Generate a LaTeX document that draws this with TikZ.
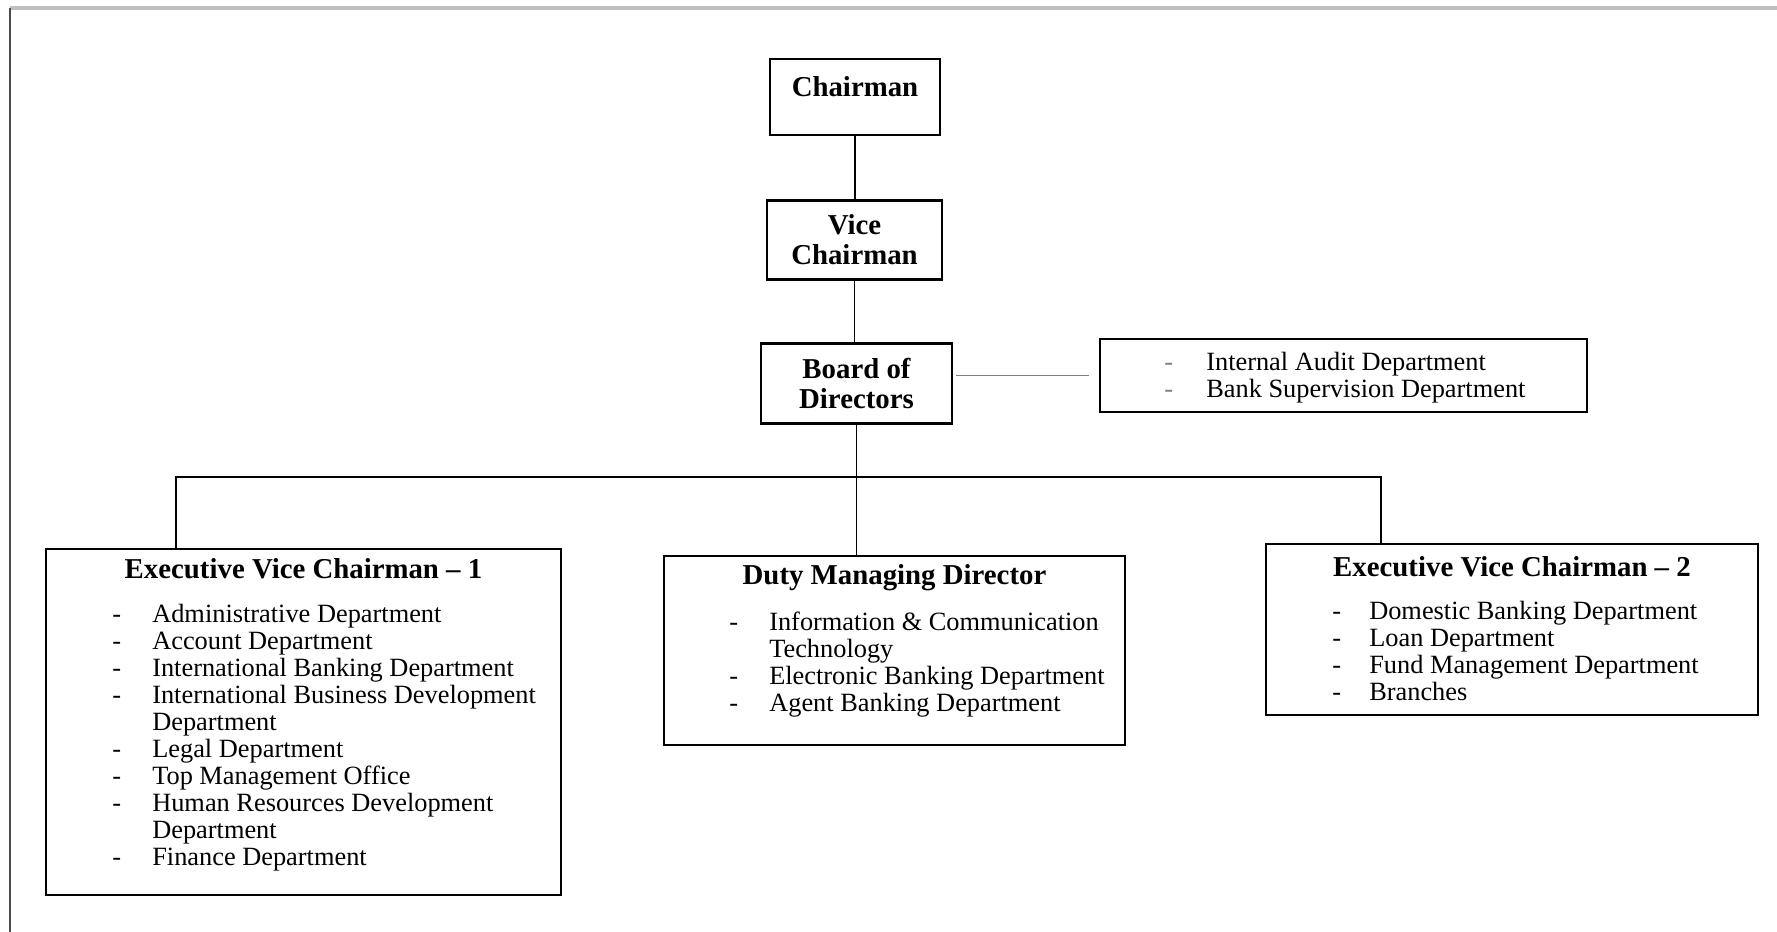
\documentclass[tikz,border=0pt]{standalone}
\usepackage{fontspec}
\setmainfont{Liberation Serif}

\begin{document}
\begin{tikzpicture}[
    box/.style={draw,line width=0.8pt,inner sep=0pt},
    link/.style={line width=0.5pt},
    head/.style={font=\fontsize{8.2}{8.6}\selectfont\bfseries,align=center,inner sep=0pt},
    items/.style={anchor=north west,inner sep=0pt,font=\fontsize{7.5}{7.7}\selectfont}
]
\useasboundingbox (0,0) rectangle (17.77,9.32);
\draw[gray!50,line width=1.2pt](0.1,9.24)--(17.77,9.24);
\draw[black!70,line width=0.4pt](0.1,9.24)--(0.1,0);

% top of the chart
\node[box,head,minimum width=1.70cm,minimum height=0.76cm,text depth=0.2cm](chair) at (8.55,8.35){Chairman};
\node[box,head,minimum width=1.75cm,minimum height=0.79cm](vice) at (8.545,6.92){Vice\\Chairman};
\node[box,head,minimum width=1.91cm,minimum height=0.80cm](board) at (8.565,5.485){Board of\\Directors};

\node[box,minimum width=4.87cm,minimum height=0.73cm](audit) at (13.435,5.565){};
\node[items](auditlist) at ([xshift=0.65cm,yshift=-0.13cm]audit.north west){%
\begin{tabular}{@{}p{0.42cm}@{}l@{}}
\textcolor{gray}{-} & Internal Audit Department\\
\textcolor{gray}{-} & Bank Supervision Department
\end{tabular}};

% three branches
\node[box,minimum width=5.15cm,minimum height=3.46cm](evcone) at (3.035,2.10){};
\node[head](evconehead) at ([yshift=-0.21cm]evcone.north){Executive Vice Chairman -- 1};
\node[items](evconelist) at ([xshift=0.67cm,yshift=-0.55cm]evcone.north west){%
\begin{tabular}{@{}p{0.40cm}@{}l@{}}
- & Administrative Department\\
- & Account Department\\
- & International Banking Department\\
- & International Business Development\\
  & Department\\
- & Legal Department\\
- & Top Management Office\\
- & Human Resources Development\\
  & Department\\
- & Finance Department
\end{tabular}};

\node[box,minimum width=4.61cm,minimum height=1.89cm](dmd) at (8.945,2.815){};
\node[head](dmdhead) at ([yshift=-0.23cm]dmd.north){Duty Managing Director};
\node[items](dmdlist) at ([xshift=0.66cm,yshift=-0.56cm]dmd.north west){%
\begin{tabular}{@{}p{0.40cm}@{}l@{}}
- & Information \& Communication\\
  & Technology\\
- & Electronic Banking Department\\
- & Agent Banking Department
\end{tabular}};

\node[box,minimum width=4.92cm,minimum height=1.71cm](evctwo) at (15.12,3.025){};
\node[head](evctwohead) at ([yshift=-0.24cm]evctwo.north){Executive Vice Chairman -- 2};
\node[items](evctwolist) at ([xshift=0.67cm,yshift=-0.57cm]evctwo.north west){%
\begin{tabular}{@{}p{0.37cm}@{}l@{}}
- & Domestic Banking Department\\
- & Loan Department\\
- & Fund Management Department\\
- & Branches
\end{tabular}};

% connectors
\coordinate (bus) at (8.565,4.55);
\draw[link](chair.south)--(chair.south|-vice.north);
\draw[link](vice.south)--(vice.south|-board.north);
\draw[link](board.south)--(board.south|-dmd.north);
\draw[link]([xshift=-1.275cm]evcone.north) |- (bus) -| ([xshift=-1.31cm]evctwo.north);
\draw[link,gray,shorten <=0.03cm,shorten >=0.1cm](board.east|-audit.west)--(audit.west);

\end{tikzpicture}
\end{document}
